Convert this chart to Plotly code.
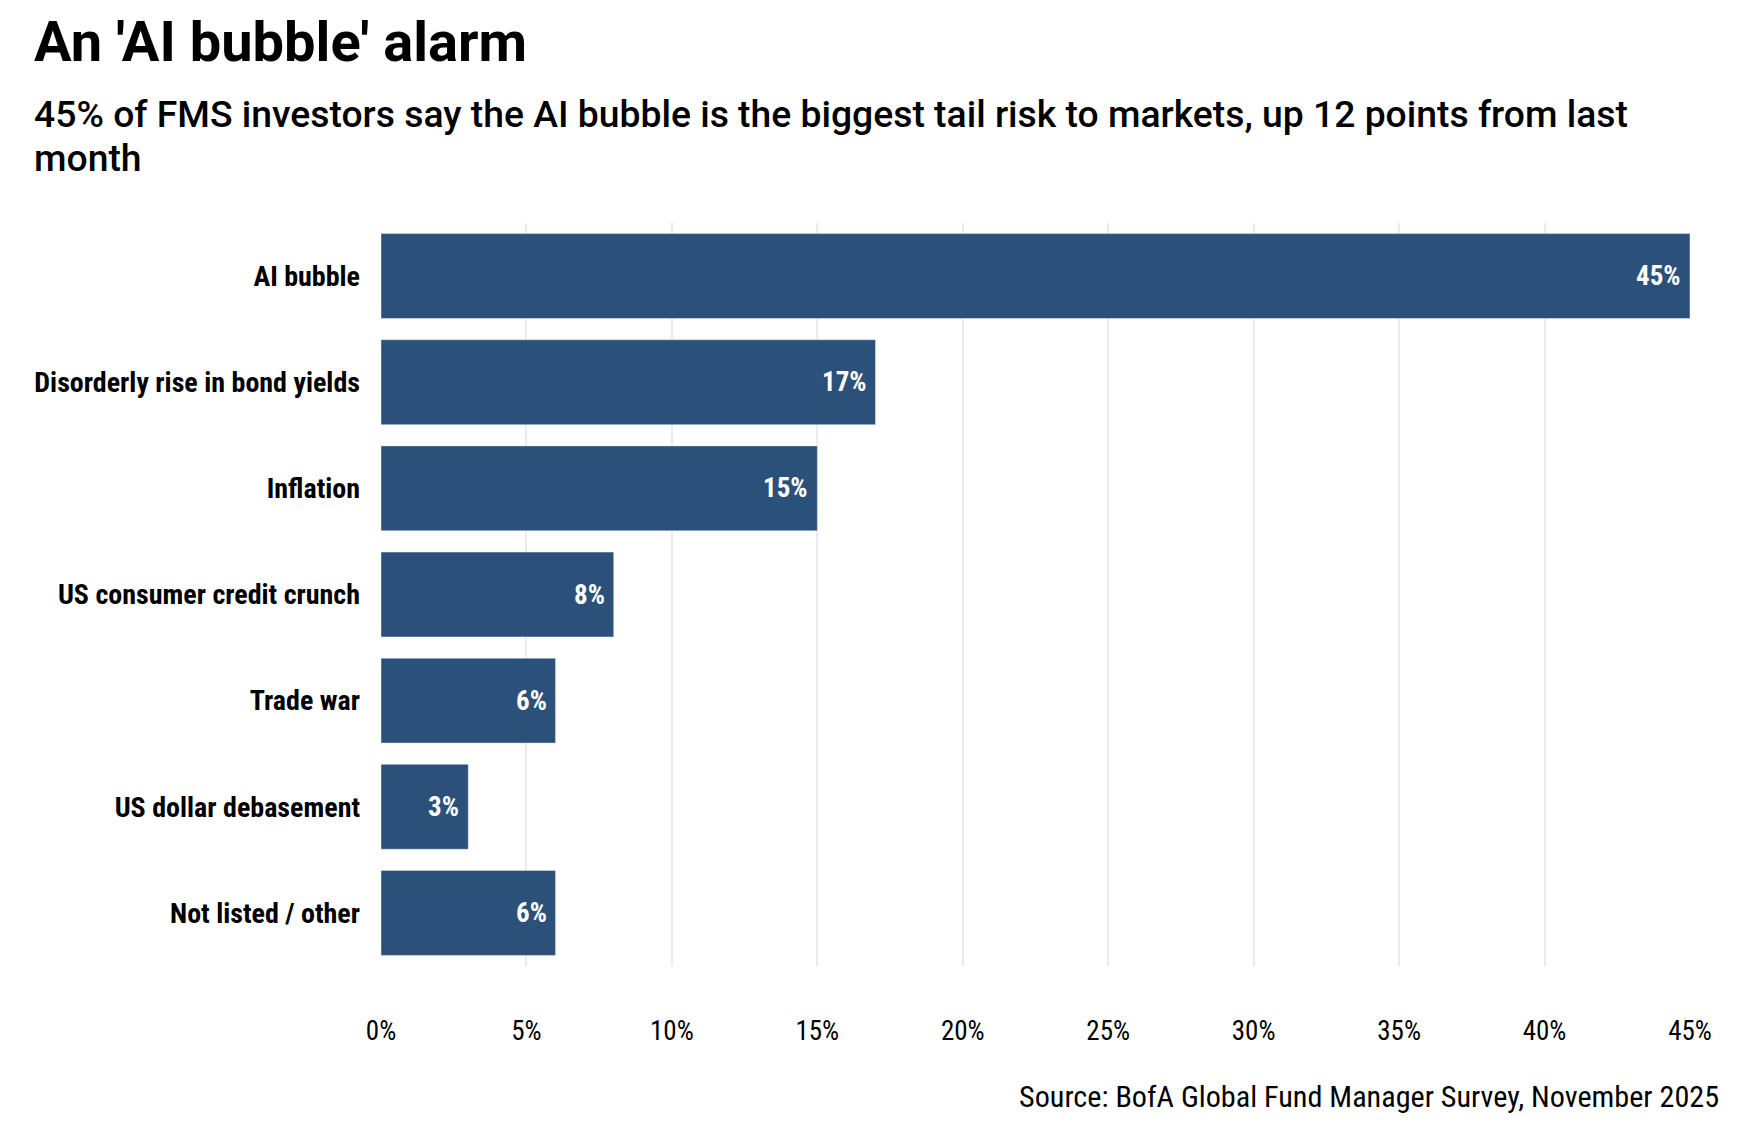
import plotly.graph_objects as go

categories = [
    "AI bubble",
    "Disorderly rise in bond yields",
    "Inflation",
    "US consumer credit crunch",
    "Trade war",
    "US dollar debasement",
    "Not listed / other",
]
values = [45, 17, 15, 8, 6, 3, 6]
tick_vals = [0, 5, 10, 15, 20, 25, 30, 35, 40, 45]
tick_text = [f"{v}%" for v in tick_vals]

title_text = "An 'AI bubble' alarm"
subtitle_lines = [
    "45% of FMS investors say the AI bubble is the biggest tail risk to markets, up 12 points from last",
    "month",
]
source_text = "Source: BofA Global Fund Manager Survey, November 2025"

COND = "Roboto Condensed, Liberation Sans Narrow, Arial Narrow, DejaVu Sans Condensed, sans-serif"
BAR_COLOR = "#2b5079"

fig = go.Figure()
fig.add_trace(go.Bar(
    x=values,
    y=categories,
    orientation="h",
    marker=dict(color=BAR_COLOR, line=dict(color="#E5ECF6", width=0.5)),
    width=0.8,
    hoverinfo="skip",
))

annotations = []
for c, v in zip(categories, values):
    annotations.append(dict(
        x=v, y=c, xref="x", yref="y", text=f"<b>{v}%</b>", showarrow=False,
        xanchor="right", yanchor="middle", xshift=-7,
        font=dict(family=COND, size=27, color="white"),
    ))

LEFT_X = -0.2669
annotations.append(dict(
    x=LEFT_X, y=1.2436, xref="paper", yref="paper", text=f"<b>{title_text}</b>",
    showarrow=False, xanchor="left", yanchor="middle",
    font=dict(family="Roboto, sans-serif", size=56, color="black")))
for line, ypos in zip(subtitle_lines, [1.147, 1.087]):
    annotations.append(dict(
        x=LEFT_X, y=ypos, xref="paper", yref="paper", text=line,
        showarrow=False, xanchor="left", yanchor="middle",
        font=dict(family="Roboto, sans-serif", size=37.3, color="black", weight=500)))
annotations.append(dict(
    x=1.0238, y=-0.1763, xref="paper", yref="paper", text=source_text,
    showarrow=False, xanchor="right", yanchor="middle",
    font=dict(family=COND, size=30.2, color="black")))

fig.update_layout(
    width=1740, height=1128,
    margin=dict(l=373, r=58, t=215, b=170),
    paper_bgcolor="white", plot_bgcolor="white",
    showlegend=False,
    annotations=annotations,
    bargap=0.2,
)
fig.update_xaxes(
    range=[0, 45], tickvals=tick_vals, ticktext=tick_text,
    showgrid=True, gridcolor="#ebebeb", gridwidth=2,
    zeroline=False, showline=False,
    tickfont=dict(family=COND, size=27, color="black"),
    ticklabelstandoff=46,
)
fig.update_yaxes(
    categoryorder="array", categoryarray=categories, autorange="reversed",
    showgrid=False, zeroline=False, showline=False,
    tickfont=dict(family=COND, size=28, color="black"),
    tickprefix="<b>", ticksuffix="</b>",
    ticklabelstandoff=20,
)

fig.write_html("out.html")
